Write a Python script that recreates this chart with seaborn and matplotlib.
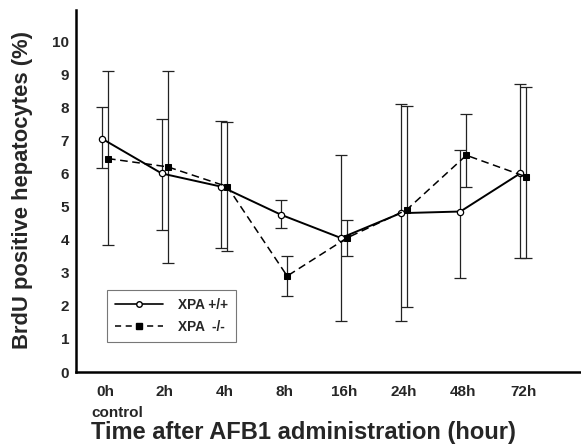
import numpy as np
import pandas as pd
import seaborn as sns
import matplotlib.pyplot as plt
from matplotlib.lines import Line2D

# categories on the x axis
time_labels = ["0h", "2h", "4h", "8h", "16h", "24h", "48h", "72h"]

# XPA +/+ (open circles, solid line): mean, lower and upper end of bar
wt_mean = [7.05, 6.0, 5.6, 4.75, 4.05, 4.8, 4.85, 6.0]
wt_low = [6.15, 4.3, 3.75, 4.35, 1.55, 1.55, 2.85, 3.45]
wt_high = [8.0, 7.65, 7.6, 5.2, 6.55, 8.1, 6.7, 8.7]

# XPA -/- (filled squares, dashed line)
ko_mean = [6.45, 6.2, 5.6, 2.9, 4.05, 4.9, 6.55, 5.9]
ko_low = [3.85, 3.3, 3.65, 2.3, 3.5, 1.95, 5.6, 3.45]
ko_high = [9.1, 9.1, 7.55, 3.5, 4.6, 8.05, 7.8, 8.6]

sns.set_style("white")
plt.rcParams['font.family'] = ['Liberation Sans', 'DejaVu Sans']
plt.rcParams['font.weight'] = 'bold'

x = np.arange(len(time_labels))
df_wt = pd.DataFrame({"x": x - 0.05, "y": wt_mean})
df_ko = pd.DataFrame({"x": x + 0.05, "y": ko_mean})

fig = plt.figure(figsize=(5.81, 4.47), dpi=100)
ax = fig.add_axes([76/581, 75/447, 505/581, 362/447])

# error bars first, thin lines
ax.errorbar(df_wt["x"], wt_mean,
            yerr=[np.array(wt_mean) - np.array(wt_low), np.array(wt_high) - np.array(wt_mean)],
            fmt='none', ecolor='#222222', elinewidth=0.9, capsize=4.3, capthick=0.9, zorder=1)
ax.errorbar(df_ko["x"], ko_mean,
            yerr=[np.array(ko_mean) - np.array(ko_low), np.array(ko_high) - np.array(ko_mean)],
            fmt='none', ecolor='#222222', elinewidth=0.9, capsize=4.3, capthick=0.9, zorder=1)

sns.lineplot(data=df_wt, x="x", y="y", ax=ax, color='black', linewidth=1.4,
             marker='o', markersize=4.5, markerfacecolor='white',
             markeredgecolor='black', markeredgewidth=0.9, zorder=3)
sns.lineplot(data=df_ko, x="x", y="y", ax=ax, color='black', linewidth=1.1,
             linestyle=(0, (5, 3)), marker='s', markersize=4.5,
             markerfacecolor='black', markeredgecolor='black', zorder=3)

ax.set_xlim(-0.486, 7.97)
ax.set_ylim(0, 10.94)
ax.set_xticks(x)
ax.set_xticklabels(time_labels, fontsize=11, fontweight='bold')
ax.set_yticks(range(0, 11))
ax.set_yticklabels([str(v) for v in range(0, 11)], fontsize=11, fontweight='bold')
ax.tick_params(axis='y', length=0, pad=5)
ax.tick_params(axis='x', direction='in', length=3, width=0.8, pad=9)

ax.text(0.2, -0.112, "control", transform=ax.get_xaxis_transform(),
        ha='center', va='center', fontsize=11, fontweight='bold')

sns.despine(ax=ax)
ax.spines['left'].set_linewidth(1.8)
ax.spines['bottom'].set_linewidth(1.8)
ax.spines['left'].set_color('black')
ax.spines['bottom'].set_color('black')

ax.set_xlabel("Time after AFB1 administration (hour)", fontsize=17, fontweight='bold')
ax.xaxis.set_label_coords((303 - 76) / 505, (372 - 433) / 362)
ax.xaxis.label.set_va('center')
ax.set_ylabel("BrdU positive hepatocytes (%)", fontsize=15.8, fontweight='bold')
ax.yaxis.set_label_coords((23 - 76) / 505, (372 - 190) / 362)
ax.yaxis.label.set_va('center')

handles = [
    Line2D([], [], color='black', linewidth=1.2, marker='o', markersize=4,
           markerfacecolor='white', markeredgecolor='black'),
    Line2D([], [], color='black', linewidth=1.1, linestyle=(0, (4, 3)), marker='s',
           markersize=4, markerfacecolor='black'),
]
leg = ax.legend(handles, ["XPA +/+", "XPA  -/-"], loc='lower left',
                bbox_to_anchor=(107/581, 1 - 342/447), bbox_transform=fig.transFigure,
                borderaxespad=0, frameon=True, fancybox=False, handlelength=3.5,
                handletextpad=1.1, labelspacing=0.6, borderpad=0.6,
                prop={'size': 9.8, 'weight': 'bold'})
leg.get_frame().set_edgecolor('#555555')
leg.get_frame().set_linewidth(0.8)

fig.savefig("out.png", dpi=100)
